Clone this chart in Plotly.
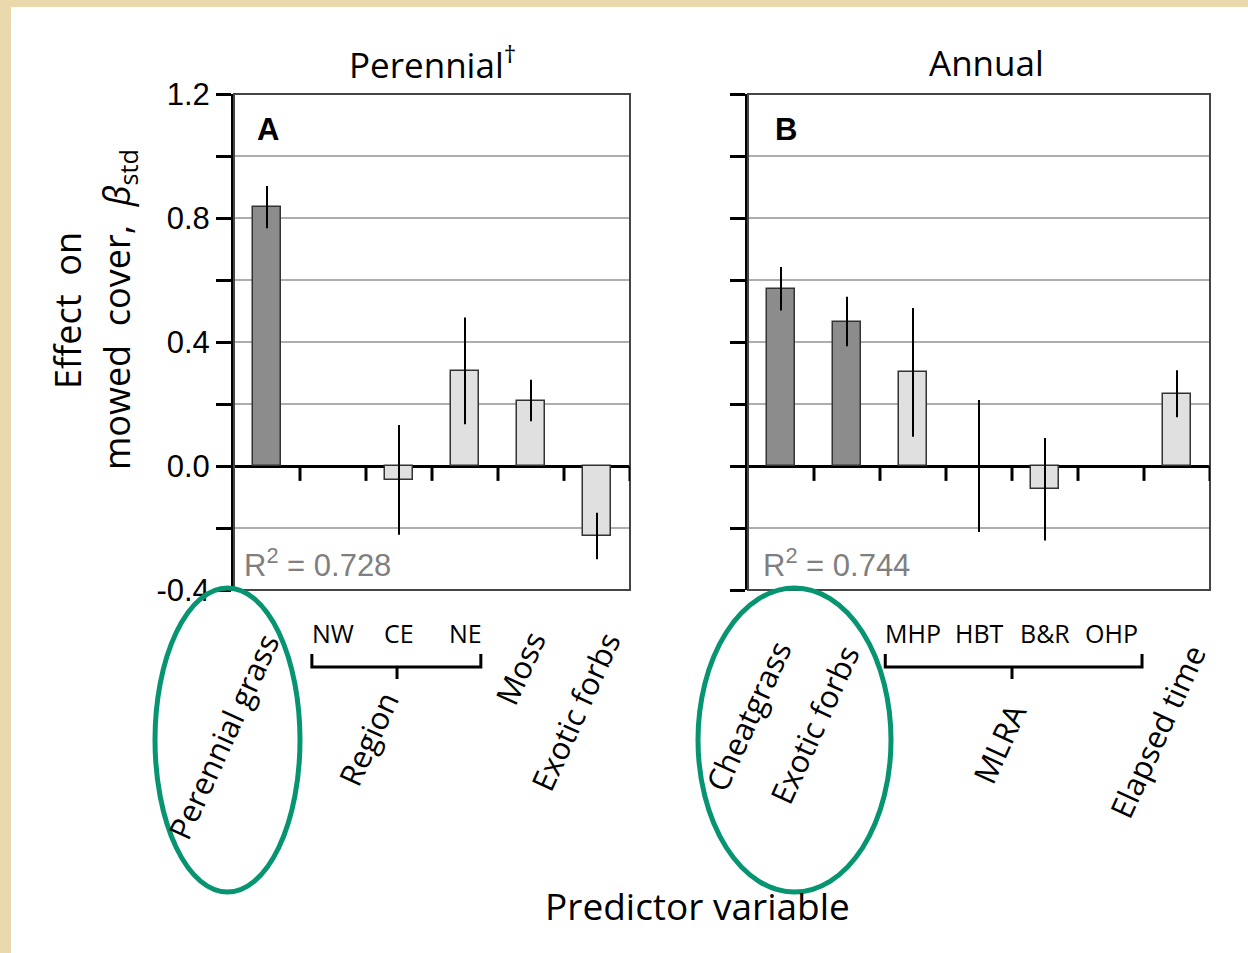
import plotly.graph_objects as go

W, H = 1248, 953

# ---------------- data ----------------
cats_a = ["Perennial grass", "NW", "CE", "NE", "Moss", "Exotic forbs"]
vals_a = [0.835, None, -0.045, 0.307, 0.211, -0.226]
err_a = [0.068, None, 0.177, 0.172, 0.067, 0.075]
dark_a = [True, False, False, False, False, False]

cats_b = ["Cheatgrass", "Exotic forbs", "MHP", "HBT", "B&R", "OHP", "Elapsed time"]
vals_b = [0.572, 0.466, 0.302, 0.0, -0.075, None, 0.233]
err_b = [0.070, 0.080, 0.208, 0.213, 0.165, None, 0.076]
dark_b = [True, True, False, False, False, False, False]

region_labels = ["NW", "CE", "NE"]
mlra_labels = ["MHP", "HBT", "B&R", "OHP"]
r2_a, r2_b = "0.728", "0.744"

y_ticks = [-0.4, 0.0, 0.4, 0.8, 1.2]
y_tick_text = ["-0.4", "0.0", "0.4", "0.8", "1.2"]

# ---------------- helpers ----------------
def px(x):
    return x / W

def py(y):
    return 1 - y / H

DARK = "#8C8C8C"
LIGHT = "#E0E0E0"
GREEN = "#079471"
TXT = "Open Sans, Noto Sans, sans-serif"
NUM = "Liberation Sans Narrow, Arial Narrow, Liberation Sans, Arial, sans-serif"

fig = go.Figure()

def add_panel(vals, errs, darks, xa, ya):
    xs = list(range(len(vals)))
    fig.add_trace(go.Bar(
        x=xs, y=vals,
        marker=dict(color=[DARK if d else LIGHT for d in darks],
                    line=dict(color="#333333",
                              width=[0 if (v is None or v == 0) else 1.5 for v in vals])),
        width=0.41,
        error_y=dict(type="data", array=errs,
                     visible=True, color="black", thickness=2, width=0),
        xaxis=xa, yaxis=ya, showlegend=False, hoverinfo="skip",
    ))

add_panel(vals_a, err_a, dark_a, "x", "y")
add_panel(vals_b, err_b, dark_b, "x2", "y2")

ydom = [py(590), py(94)]
yax = dict(range=[-0.4, 1.2], tickvals=y_ticks, ticktext=y_tick_text,
           showgrid=True, gridcolor="#ADADAD", gridwidth=2,
           zeroline=True, zerolinecolor="black", zerolinewidth=3,
           showline=True, linecolor="black", linewidth=3,
           ticks="outside", ticklen=15, tickwidth=3, tickcolor="black",
           minor=dict(tickvals=[-0.2, 0.2, 0.6, 1.0], ticks="outside", ticklen=15,
                      tickwidth=3, tickcolor="black", showgrid=True,
                      gridcolor="#ADADAD", gridwidth=2),
           tickfont=dict(family=NUM, size=31, color="black"), domain=ydom,
           automargin=False)

fig.update_layout(
    width=W, height=H, autosize=False, margin=dict(l=0, r=0, t=0, b=0, pad=0),
    paper_bgcolor="white", plot_bgcolor="white", bargap=0,
    xaxis=dict(domain=[px(234), px(630)], range=[-0.5, len(cats_a) - 0.5],
               showticklabels=False, showgrid=False, zeroline=False, ticks="",
               automargin=False),
    xaxis2=dict(domain=[px(748), px(1210)], range=[-0.5, len(cats_b) - 0.5],
                showticklabels=False, showgrid=False, zeroline=False, ticks="",
                anchor="y2", automargin=False),
    yaxis=dict(**yax, anchor="x"),
    yaxis2=dict(**yax, anchor="x2"),
)
fig.update_layout(yaxis2=dict(showticklabels=False))

shapes = []
# parchment bands
shapes.append(dict(type="rect", xref="paper", yref="paper", x0=0, x1=1, y0=py(7), y1=1,
                   fillcolor="#EBD9AE", line=dict(width=0), layer="below"))
shapes.append(dict(type="rect", xref="paper", yref="paper", x0=0, x1=px(11), y0=0, y1=1,
                   fillcolor="#EBD9AE", line=dict(width=0), layer="below"))

for xa, ya, n in [("x", "y", len(cats_a)), ("x2", "y2", len(cats_b))]:
    shapes.append(dict(type="rect", xref=xa + " domain", yref=ya + " domain",
                       x0=0, x1=1, y0=0, y1=1, line=dict(color="#454545", width=2)))
    for i in range(n):
        shapes.append(dict(type="line", xref=xa, yref=ya, x0=i + 0.5, x1=i + 0.5,
                           y0=0, y1=-0.048, line=dict(color="black", width=3)))

# brackets
def bracket(xa, x0, x1, xm):
    ytop, ymid, ybot = py(654), py(667), py(679)
    path = f"M {x0},{ytop} L {x0},{ymid} L {x1},{ymid} L {x1},{ytop}"
    shapes.append(dict(type="path", xref=xa, yref="paper", path=path,
                       line=dict(color="black", width=3)))
    shapes.append(dict(type="line", xref=xa, yref="paper", x0=xm, x1=xm,
                       y0=ymid, y1=ybot, line=dict(color="black", width=3)))

bracket("x", 0.68, 3.24, 1.97)
bracket("x2", 1.58, 5.47, 3.5)

# ellipses
shapes.append(dict(type="circle", xref="paper", yref="paper",
                   x0=px(155), x1=px(300), y0=py(892), y1=py(588),
                   line=dict(color=GREEN, width=5)))
shapes.append(dict(type="circle", xref="paper", yref="paper",
                   x0=px(698), x1=px(891), y0=py(892), y1=py(588),
                   line=dict(color=GREEN, width=5)))
fig.update_layout(shapes=shapes)

ann = []
def A(text, x, y, size, family=TXT, angle=0, color="black", xref="paper",
      xanchor="center", yanchor="middle"):
    ann.append(dict(text=text, x=x, y=y, xref=xref, yref="paper", showarrow=False,
                    textangle=angle, xanchor=xanchor, yanchor=yanchor,
                    font=dict(family=family, size=size, color=color)))

A("Perennial<sup>†</sup>", px(432), py(62), 35)
A("Annual", px(986), py(62), 35)
A("<b>A</b>", px(268), py(130), 31, family="Liberation Sans, Arial")
A("<b>B</b>", px(786), py(130), 31, family="Liberation Sans, Arial")
A("R<sup>2</sup> = " + r2_a, px(242), py(563), 31, family=NUM, color="#7F7F7F", xanchor="left")
A("R<sup>2</sup> = " + r2_b, px(761), py(563), 31, family=NUM, color="#7F7F7F", xanchor="left")
A("Effect\u00a0\u00a0on", px(67), py(311), 36, angle=-90)
A("mowed\u00a0\u00a0cover,\u00a0\u00a0<i>β</i><sub>std</sub>", px(118), py(310), 36, angle=-90)
A("Predictor variable", px(697), py(905), 37)

for i, lab in enumerate(region_labels):
    A(lab, i + 1, py(633), 25, xref="x")
for i, lab in enumerate(mlra_labels):
    A(lab, i + 2, py(633), 25, xref="x2")

ROT = -65.5
A("Perennial grass", px(223), py(737), 31, angle=ROT)
A("Region", px(368), py(739), 31, angle=ROT)
A("Moss", px(520), py(668), 31, angle=ROT)
A("Exotic forbs", px(575), py(712), 31, angle=ROT)
A("Cheatgrass", px(748), py(716), 31, angle=ROT)
A("Exotic forbs", px(814), py(725), 31, angle=ROT)
A("MLRA", px(999), py(744), 31, angle=ROT)
A("Elapsed time", px(1157), py(732), 31, angle=ROT)

fig.update_layout(annotations=ann)
fig.write_html("out.html")
